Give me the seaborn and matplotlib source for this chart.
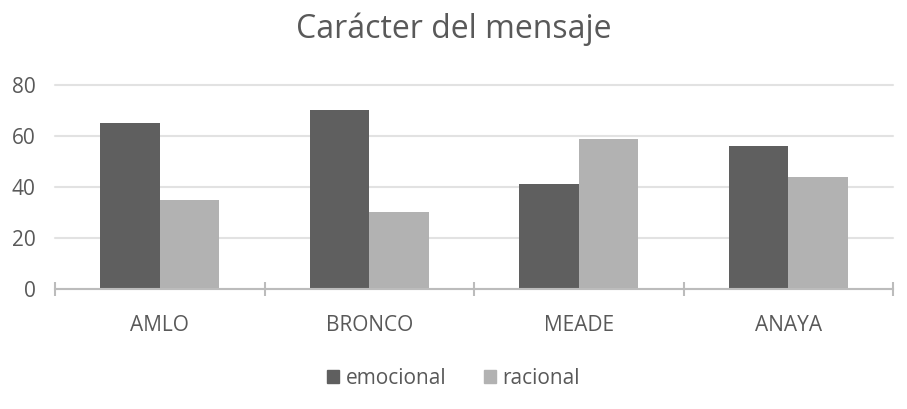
import pandas as pd
import numpy as np
import matplotlib.pyplot as plt
import seaborn as sns

# values
candidatos = ["AMLO", "BRONCO", "MEADE", "ANAYA"]
emocional = [65, 70, 41, 56]
racional = [35, 30, 59, 44]

df = pd.DataFrame({
    "candidato": candidatos * 2,
    "valor": emocional + racional,
    "tipo": ["emocional"] * 4 + ["racional"] * 4,
})

sns.set_style("white")
plt.rcParams["font.family"] = ["Open Sans", "DejaVu Sans"]

fig = plt.figure(figsize=(9.07, 4.09), dpi=100)
ax = fig.add_axes([55 / 907, 1 - 289 / 409, (893 - 55) / 907, (289 - 85) / 409])

sns.barplot(data=df, x="candidato", y="valor", hue="tipo", ax=ax,
            palette=["#5f5f5f", "#b2b2b2"], width=0.57, saturation=1,
            edgecolor="none", zorder=3)

ax.set_ylim(0, 80)
ax.set_xlim(-0.5, 3.5)
ax.set_yticks([0, 20, 40, 60, 80])
ax.yaxis.grid(True, color="#e2e2e2", linewidth=1.5, zorder=0)
for gl in ax.get_ygridlines():
    gl.set_clip_on(False)
ax.set_axisbelow(True)

for s in ["top", "right", "left"]:
    ax.spines[s].set_visible(False)
ax.spines["bottom"].set_color("#bcbcbc")
ax.spines["bottom"].set_linewidth(1.5)
ax.spines["bottom"].set_zorder(4)

# category boundary ticks crossing the axis
ax.set_xticks(np.arange(-0.5, 4, 1), minor=True)
ax.tick_params(axis="x", which="minor", bottom=True, length=10, direction="inout",
               color="#bcbcbc", width=1.5)
ax.tick_params(axis="x", which="major", bottom=True, length=0, pad=19, labelsize=15,
               labelcolor="#595959")
ax.tick_params(axis="y", length=0, pad=14, labelsize=15, labelcolor="#595959")

ax.set_xlabel("")
ax.set_ylabel("")
ax.get_legend().remove()

fig.suptitle("Carácter del mensaje", y=1 - 29 / 409, va="center", fontsize=23, color="#595959")

handles = [plt.Rectangle((0, 0), 1, 1, color=c) for c in ["#5f5f5f", "#b2b2b2"]]
fig.legend(handles, ["emocional", "racional"], loc="center", bbox_to_anchor=(0.5, 1 - 378 / 409),
           ncol=2, frameon=False, handlelength=0.6, handleheight=0.6, handletextpad=0.3,
           columnspacing=1.8, fontsize=15, labelcolor="#595959")

fig.savefig("out.png", dpi=100)
